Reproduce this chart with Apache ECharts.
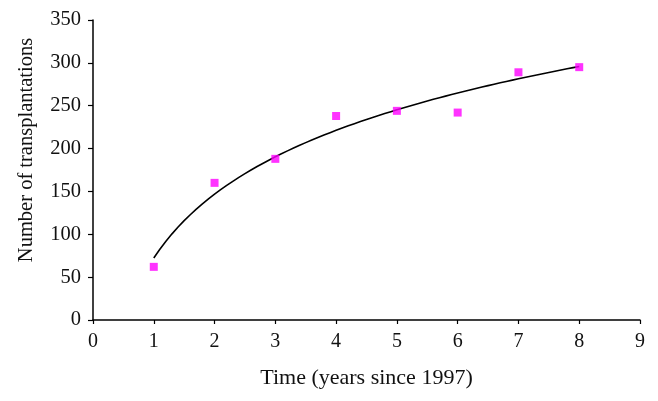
<!DOCTYPE html>
<html>
<head>
<meta charset="utf-8">
<script src="https://cdn.jsdelivr.net/npm/echarts@6/dist/echarts.min.js"></script>
<style>
html,body{margin:0;padding:0;background:#fff;}
#chart{width:658px;height:401px;}
</style>
</head>
<body>
<div id="chart"></div>
<script>
// Data
var years = [1, 2, 3, 4, 5, 6, 7, 8];
var transplantations = [62, 160, 188, 238, 244, 242, 289, 295];
var xTicks = [0, 1, 2, 3, 4, 5, 6, 7, 8, 9];
var yTicks = [0, 50, 100, 150, 200, 250, 300, 350];
var xTitle = 'Time (years since 1997)';
var yTitle = 'Number of transplantations';

// Logarithmic trend line (least squares fit y = a*ln(x) + b on the data above)
var n = years.length, mx = 0, my = 0;
for (var i = 0; i < n; i++) { mx += Math.log(years[i]); my += transplantations[i]; }
mx /= n; my /= n;
var sxy = 0, sxx = 0;
for (var i = 0; i < n; i++) {
  var d = Math.log(years[i]) - mx;
  sxy += d * (transplantations[i] - my);
  sxx += d * d;
}
var a = sxy / sxx, b = my - a * mx;
var trend = [];
for (var k = 0; k <= 70; k++) {
  var x = years[0] + (years[n - 1] - years[0]) * k / 70;
  trend.push([x, a * Math.log(x) + b]);
}

var font = 'Liberation Serif';
var chart = echarts.init(document.getElementById('chart'), null, {renderer: 'canvas'});
chart.setOption({
  animation: false,
  backgroundColor: '#ffffff',
  grid: {left: 93, right: 18, top: 20, bottom: 81, containLabel: false},
  graphic: [{
    type: 'text', x: 27, y: 150, rotation: Math.PI / 2,
    style: {text: yTitle, font: '20.5px "' + font + '"', fill: '#111',
            align: 'center', verticalAlign: 'middle'}
  }],
  xAxis: {
    type: 'value', min: xTicks[0], max: xTicks[xTicks.length - 1], interval: 1,
    name: xTitle, nameLocation: 'middle', nameGap: 47,
    nameTextStyle: {fontFamily: font, fontSize: 22, color: '#111'},
    axisLine: {show: true, lineStyle: {color: '#000', width: 1.5}},
    axisTick: {show: true, length: 4, lineStyle: {color: '#000', width: 1.2}},
    axisLabel: {fontFamily: font, fontSize: 20, color: '#111', margin: 12},
    splitLine: {show: false}
  },
  yAxis: {
    type: 'value', min: yTicks[0], max: yTicks[yTicks.length - 1], interval: 50,
    axisLine: {show: true, lineStyle: {color: '#000', width: 1.5}},
    axisTick: {show: true, length: 5, lineStyle: {color: '#000', width: 1.2}},
    axisLabel: {fontFamily: font, fontSize: 20.5, color: '#111', margin: 12},
    splitLine: {show: false}
  },
  series: [
    {
      type: 'line', data: trend, showSymbol: false, smooth: false,
      lineStyle: {color: '#000', width: 1.6}, z: 2
    },
    {
      type: 'scatter', data: years.map(function (x, i) { return [x, transplantations[i]]; }),
      symbol: 'rect', symbolSize: 8, itemStyle: {color: '#ff00ff'}, z: 3
    }
  ]
});
</script>
</body>
</html>
